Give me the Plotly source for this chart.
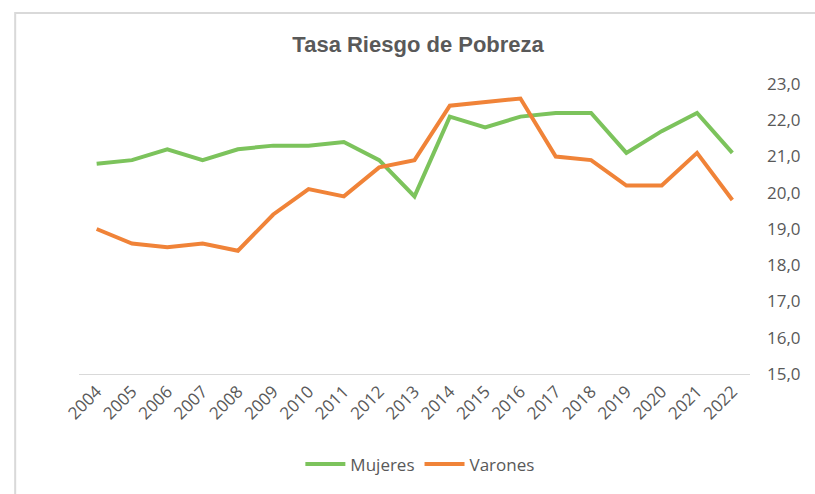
import plotly.graph_objects as go

# Poverty-risk rate by sex, 2004-2022
years = [str(y) for y in range(2004, 2023)]
mujeres = [20.8, 20.9, 21.2, 20.9, 21.2, 21.3, 21.3, 21.4, 20.9, 19.9,
           22.1, 21.8, 22.1, 22.2, 22.2, 21.1, 21.7, 22.2, 21.1]
varones = [19.0, 18.6, 18.5, 18.6, 18.4, 19.4, 20.1, 19.9, 20.7, 20.9,
           22.4, 22.5, 22.6, 21.0, 20.9, 20.2, 20.2, 21.1, 19.8]
y_ticks = [15, 16, 17, 18, 19, 20, 21, 22, 23]
y_tick_text = [f"{v:.1f}".replace(".", ",") for v in y_ticks]

TEXT_GREY = "#595959"
FONT = "Open Sans, Liberation Sans, Arial, sans-serif"
TITLE_FONT = "Liberation Sans, Arial, sans-serif"

fig = go.Figure()
fig.add_trace(go.Scatter(x=years, y=mujeres, name="Mujeres", mode="lines",
                         line=dict(color="#7cc35c", width=4)))
fig.add_trace(go.Scatter(x=years, y=varones, name="Varones", mode="lines",
                         line=dict(color="#f08338", width=4)))

fig.update_layout(
    width=815, height=494,
    margin=dict(l=79, r=65, t=84, b=118),
    paper_bgcolor="white", plot_bgcolor="white",
    font=dict(family=FONT, color=TEXT_GREY),
    title=dict(text="<b>Tasa Riesgo de Pobreza</b>", x=0.513, xanchor="center",
               y=1 - 44 / 494, yanchor="middle",
               font=dict(size=22, color=TEXT_GREY, family=TITLE_FONT)),
    showlegend=True,
    legend=dict(orientation="h", x=0.508, xanchor="center", y=-(467 - 376) / 292,
                yanchor="middle", font=dict(size=17, color=TEXT_GREY),
                itemwidth=40, tracegroupgap=0),
    xaxis=dict(type="category", showgrid=False, showline=True, linecolor="#d9d9d9",
               linewidth=1, ticks="", tickangle=-45, range=[-0.5, 18.5],
               tickfont=dict(size=17, color=TEXT_GREY), zeroline=False),
    yaxis=dict(side="right", range=[15, 23], tickvals=y_ticks, ticktext=y_tick_text,
               showgrid=False, showline=False, zeroline=False, ticks="",
               tickfont=dict(size=17, color=TEXT_GREY), ticklabelstandoff=16),
    shapes=[dict(type="rect", xref="paper", yref="paper",
                 x0=-70 / 736 + 0.0, x1=1.5, y0=-2, y1=1 + 71.5 / 292,
                 line=dict(color="#d9d9d9", width=2), fillcolor="rgba(0,0,0,0)",
                 layer="below")],
)

fig.write_html("out.html")
